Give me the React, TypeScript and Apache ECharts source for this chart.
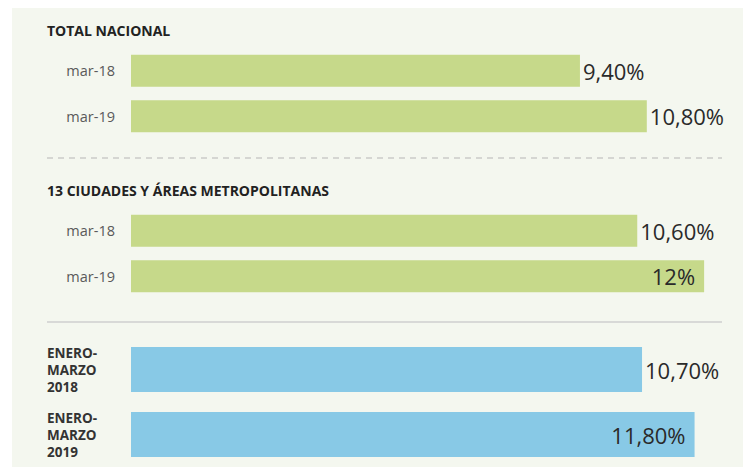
import React, { useEffect, useRef } from "react";
import * as echarts from "echarts";

const sectionTitles = ["TOTAL NACIONAL", "13 CIUDADES Y ÁREAS METROPOLITANAS"];
const nationalCats = ["mar-18", "mar-19"];
const nationalValues = [9.4, 10.8];
const cityCats = ["mar-18", "mar-19"];
const cityValues = [10.6, 12];
const quarterCats = ["ENERO-\nMARZO\n2018", "ENERO-\nMARZO\n2019"];
const quarterValues = [10.7, 11.8];

const GREEN = "#c6d98a";
const BLUE = "#88c9e6";
const FONT = "Open Sans";

function fmt(v: number): string {
  return Number.isInteger(v) ? `${v}%` : v.toFixed(2).replace(".", ",") + "%";
}

export default function App() {
  const ref = useRef<HTMLDivElement>(null);
  useEffect(() => {
    if (!ref.current) return;
    const chart = echarts.init(ref.current, undefined, { renderer: "svg" });
    const grids = [
      { left: 131, right: 15, top: 48, height: 91 },
      { left: 131, right: 15, top: 208, height: 91 },
      { left: 131, right: 15, top: 337, height: 130 },
    ].map((g) => ({ ...g, containLabel: false, outerBoundsMode: "none" }));

    const xAxes = [0, 1, 2].map((i) => ({
      type: "value",
      gridIndex: i,
      min: 0,
      max: 12.5,
      show: false,
    }));

    const baseY = {
      type: "category",
      inverse: true,
      axisLine: { show: false },
      axisTick: { show: false },
      splitLine: { show: false },
    };
    const catLabel = { margin: 16, color: "#5a5a5a", fontSize: 14.5, fontFamily: FONT };
    const yAxes = [
      { ...baseY, gridIndex: 0, data: nationalCats, axisLabel: catLabel },
      { ...baseY, gridIndex: 1, data: cityCats, axisLabel: catLabel },
      {
        ...baseY,
        gridIndex: 2,
        data: quarterCats,
        axisLabel: {
          margin: 84,
          align: "left",
          color: "#333",
          fontSize: 13.5,
          fontWeight: "bold",
          lineHeight: 17,
          fontFamily: FONT,
        },
      },
    ];

    const valueLabel = {
      show: true,
      position: "right",
      distance: 3,
      formatter: (p: any) => fmt(p.value),
      color: "#2a2a2a",
      fontSize: 22,
      fontFamily: FONT,
    };
    const inside = { position: "insideRight", distance: 9 };

    const mk = (vals: number[], insideIdx: number[]) =>
      vals.map((v, i) => (insideIdx.includes(i) ? { value: v, label: inside } : v));

    const series = [
      {
        type: "bar",
        xAxisIndex: 0,
        yAxisIndex: 0,
        data: mk(nationalValues, []),
        barWidth: 32,
        itemStyle: { color: GREEN },
        label: valueLabel,
      },
      {
        type: "bar",
        xAxisIndex: 1,
        yAxisIndex: 1,
        data: mk(cityValues, [1]),
        barWidth: 32,
        itemStyle: { color: GREEN },
        label: valueLabel,
      },
      {
        type: "bar",
        xAxisIndex: 2,
        yAxisIndex: 2,
        data: mk(quarterValues, [1]),
        barWidth: 45,
        itemStyle: { color: BLUE },
        label: valueLabel,
      },
    ];

    chart.setOption({
      animation: false,
      grid: grids,
      xAxis: xAxes,
      yAxis: yAxes,
      series,
      graphic: [
        {
          type: "rect",
          z: -100,
          silent: true,
          shape: { x: 12, y: 8, width: 731, height: 459 },
          style: { fill: "#f4f7ef" },
        },
        {
          type: "text",
          x: 47,
          y: 30,
          style: {
            text: sectionTitles[0],
            fill: "#222",
            font: `bold 14px "${FONT}"`,
            textVerticalAlign: "middle",
          },
        },
        {
          type: "text",
          x: 47,
          y: 190,
          style: {
            text: sectionTitles[1],
            fill: "#222",
            font: `bold 14px "${FONT}"`,
            textVerticalAlign: "middle",
          },
        },
        {
          type: "line",
          shape: { x1: 47, y1: 158, x2: 722, y2: 158 },
          style: { stroke: "#b5b5b5", lineWidth: 1.2, lineDash: [6, 5] },
        },
        {
          type: "line",
          shape: { x1: 47, y1: 322, x2: 722, y2: 322 },
          style: { stroke: "#cfcfcf", lineWidth: 1.5 },
        },
      ],
    });
    return () => chart.dispose();
  }, []);
  return (
    <div
      ref={ref}
      style={{ position: "fixed", left: 0, top: 0, width: 743, height: 467, background: "#fff" }}
    />
  );
}
